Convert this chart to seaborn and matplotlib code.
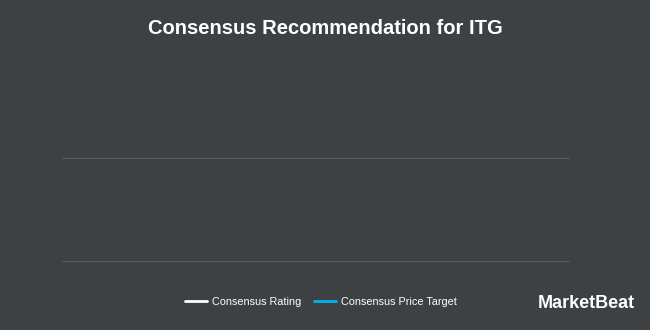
import numpy as np
import pandas as pd
import seaborn as sns
import matplotlib.pyplot as plt
from matplotlib.lines import Line2D

# data: no recommendation history for ITG, so both series are empty
dates = []
ratings = []
price_targets = []
grid_levels = [0, 1]
series_names = ['Consensus Rating', 'Consensus Price Target']
series_colors = ['#ffffff', '#00b4f0']

bg = '#3d4143'
sns.set_theme(style='dark', rc={'figure.facecolor': bg, 'axes.facecolor': bg})
plt.rcParams['font.family'] = ['Liberation Sans', 'DejaVu Sans']

fig = plt.figure(figsize=(6.5, 3.3), dpi=100)
ax = fig.add_axes([62/650, 1 - 262/330, 508/650, 104/330])

df = pd.DataFrame({'date': pd.to_datetime(dates), 'rating': ratings, 'target': price_targets})
if len(df):
    sns.lineplot(data=df, x='date', y='rating', color=series_colors[0], ax=ax)
    sns.lineplot(data=df, x='date', y='target', color=series_colors[1], ax=ax)

ax.set_ylim(grid_levels[0], grid_levels[-1])
ax.set_yticks(grid_levels)
ax.set_xticks([])
ax.yaxis.grid(True, color='#5b606b', linewidth=1.2)
ax.tick_params(left=False, labelleft=False)
for s in ax.spines.values():
    s.set_visible(False)
ax.set_xlabel('')
ax.set_ylabel('')

fig.text(0.5, 1 - 29/330, 'Consensus Recommendation for ITG', ha='center', va='center',
         color='white', fontsize=14.5, fontweight='bold')

handles = [Line2D([], [], color=c, linewidth=2) for c in series_colors]
fig.legend(handles, series_names, loc='center', bbox_to_anchor=(321/650, 1 - 302/330),
           ncol=2, frameon=False, fontsize=7.8, labelcolor='white', handlelength=2.0,
           columnspacing=1.2, handletextpad=0.5)

fig.text(0.828, 1 - 303/330, 'MarketBeat', ha='left', va='center', color='white',
         fontsize=13, fontweight='bold')

fig.savefig('out.png', dpi=100, facecolor=bg)
